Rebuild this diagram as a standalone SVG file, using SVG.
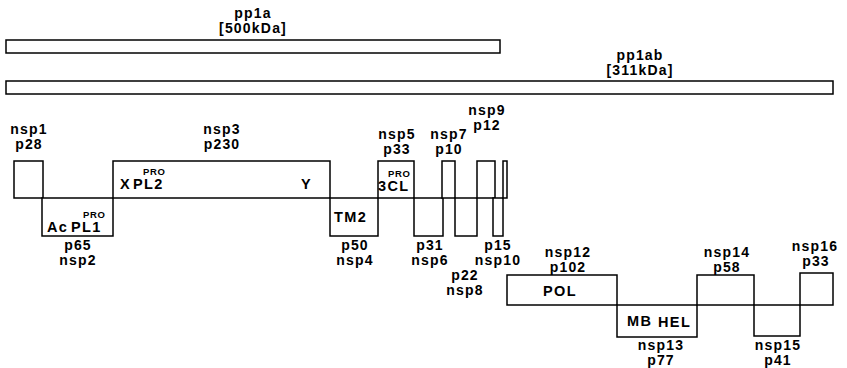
<svg xmlns="http://www.w3.org/2000/svg" width="847" height="368" viewBox="0 0 847 368">
<style>
.box{fill:#fff;stroke:#000;stroke-width:1.5}
.t{font-family:"Liberation Sans",Arial,Helvetica,sans-serif;font-weight:bold;font-size:14px;letter-spacing:1.2px;fill:#000;text-anchor:middle}
.i{text-anchor:start;font-size:14.5px;letter-spacing:1.4px}
.s{font-size:9.5px;letter-spacing:0.6px;text-anchor:start}
</style>
<rect width="847" height="368" fill="#fff"/>
<g id="pp1a">
<rect class="box" x="6" y="40" width="494" height="13"/>
<text class="t" x="253" y="18">pp1a</text>
<text class="t" x="253" y="33">[500kDa]</text>
</g>
<g id="pp1ab">
<rect class="box" x="6" y="81" width="827" height="13"/>
<text class="t" x="640" y="60">pp1ab</text>
<text class="t" x="640" y="75">[311kDa]</text>
</g>
<g id="nsp1">
<rect class="box" x="14" y="161" width="29" height="37"/>
<text class="t" x="29" y="134">nsp1</text>
<text class="t" x="29" y="149">p28</text>
</g>
<g id="nsp2">
<rect class="box" x="42" y="198" width="71" height="38"/>
<text class="t i" x="47" y="232">Ac</text>
<text class="t i" x="71" y="232">PL1</text>
<text class="t s" x="83" y="218">PRO</text>
<text class="t" x="78" y="250">p65</text>
<text class="t" x="78" y="265">nsp2</text>
</g>
<g id="nsp3">
<rect class="box" x="113" y="161" width="217" height="37"/>
<text class="t i" x="120" y="189">X</text>
<text class="t i" x="133" y="189">PL2</text>
<text class="t s" x="143" y="175">PRO</text>
<text class="t i" x="301" y="189">Y</text>
<text class="t" x="222" y="134">nsp3</text>
<text class="t" x="222" y="149">p230</text>
</g>
<g id="nsp4">
<rect class="box" x="330" y="198" width="48" height="38"/>
<text class="t i" x="334" y="222">TM2</text>
<text class="t" x="355" y="250">p50</text>
<text class="t" x="355" y="265">nsp4</text>
</g>
<g id="nsp5">
<rect class="box" x="378" y="161" width="36" height="37"/>
<text class="t i" x="378" y="191">3CL</text>
<text class="t s" x="388" y="177">PRO</text>
<text class="t" x="397" y="139">nsp5</text>
<text class="t" x="397" y="154">p33</text>
</g>
<g id="nsp6">
<rect class="box" x="414" y="198" width="29" height="38"/>
<text class="t" x="430" y="250">p31</text>
<text class="t" x="430" y="265">nsp6</text>
</g>
<g id="nsp7">
<rect class="box" x="442" y="161" width="13" height="37"/>
<text class="t" x="449" y="139">nsp7</text>
<text class="t" x="449" y="154">p10</text>
</g>
<g id="nsp8">
<rect class="box" x="455" y="198" width="22" height="38"/>
<text class="t" x="465" y="280">p22</text>
<text class="t" x="465" y="295">nsp8</text>
</g>
<g id="nsp9">
<rect class="box" x="477" y="161" width="18" height="37"/>
<text class="t" x="487" y="115">nsp9</text>
<text class="t" x="487" y="130">p12</text>
</g>
<g id="nsp10">
<rect class="box" x="493" y="198" width="10" height="38"/>
<text class="t" x="498" y="250">p15</text>
<text class="t" x="498" y="265">nsp10</text>
</g>
<g id="nsp11">
<rect class="box" x="503" y="161" width="4" height="37"/>
</g>
<g id="nsp12">
<rect class="box" x="507" y="275" width="110" height="30"/>
<text class="t i" x="543" y="296">POL</text>
<text class="t" x="568" y="257">nsp12</text>
<text class="t" x="568" y="272">p102</text>
</g>
<g id="nsp13">
<rect class="box" x="617" y="305" width="80" height="32"/>
<text class="t i" x="627" y="326">MB</text>
<text class="t i" x="658" y="327">HEL</text>
<text class="t" x="661" y="350">nsp13</text>
<text class="t" x="661" y="365">p77</text>
</g>
<g id="nsp14">
<rect class="box" x="697" y="275" width="57" height="30"/>
<text class="t" x="727" y="257">nsp14</text>
<text class="t" x="727" y="272">p58</text>
</g>
<g id="nsp15">
<rect class="box" x="754" y="305" width="46" height="31"/>
<text class="t" x="778" y="350">nsp15</text>
<text class="t" x="778" y="365">p41</text>
</g>
<g id="nsp16">
<rect class="box" x="800" y="273" width="33" height="32"/>
<text class="t" x="815" y="251">nsp16</text>
<text class="t" x="816" y="266">p33</text>
</g>
</svg>
